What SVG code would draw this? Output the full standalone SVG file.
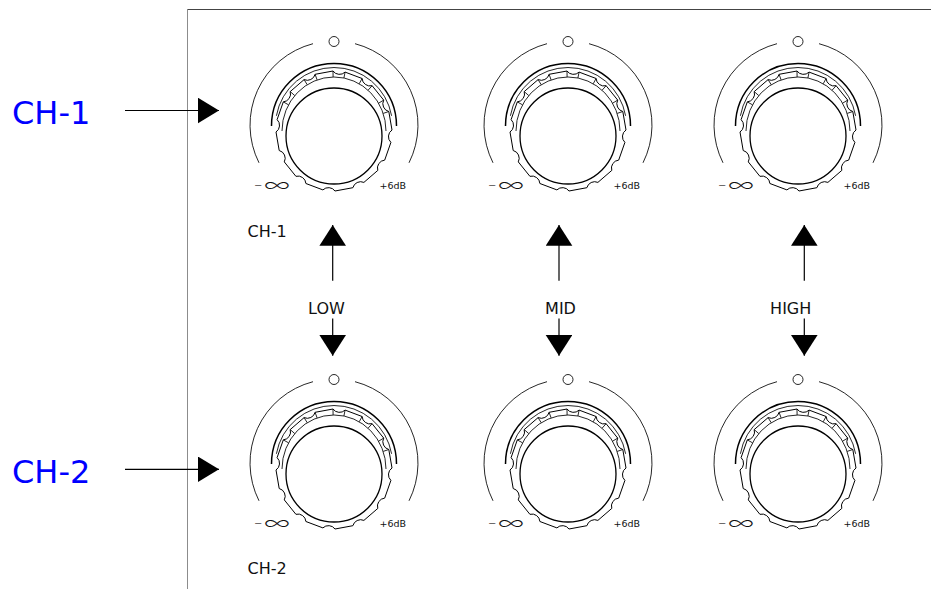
<svg xmlns="http://www.w3.org/2000/svg" width="931" height="589" viewBox="0 0 931 589">
<style>
.k{fill:none;stroke:#000}
.sk{stroke-width:1.5}
.th{stroke-width:0.85}
.gr{stroke-width:1}
.face{stroke-width:1.3}
.lbl{font-family:"DejaVu Sans",Verdana,sans-serif;fill:#111}
.inf{font-family:Inter,"Open Sans",sans-serif;font-weight:200}
.small{font-size:9.5px}
.mid{font-size:16px}
.ch{font-family:"DejaVu Sans",Verdana,sans-serif;fill:#0000ff;font-size:32px}
.conn{stroke:#000;stroke-width:1.2;fill:none}
</style>
<defs>
<marker id="ah" markerUnits="userSpaceOnUse" markerWidth="22" markerHeight="26" refX="21" refY="12.75" orient="auto">
<path d="M0,0 L21,12.75 L0,25.5 Z" fill="#000"/>
</marker>
<marker id="av" markerUnits="userSpaceOnUse" markerWidth="21" markerHeight="27" refX="20.7" refY="13.3" orient="auto">
<path d="M0,0 L20.7,13.3 L0,26.6 Z" fill="#000"/>
</marker>
<g id="knob">
<path class="k th" d="M-21,-82.3 A84,84 0 0 0 -75,36.8"/>
<path class="k th" d="M21,-82.3 A84,84 0 0 1 75,36.8"/>
<circle class="k th" cx="0" cy="-84.5" r="5"/>
<path class="k sk" d="M-62.5,0 A62.5,62.5 0 0 1 62.5,0"/>
<path class="k th" d="M-57.6,-10.2 A58.5,58.5 0 0 1 57.6,-10.2"/>
<path class="k gr" d="M-1,-55 A8,8 0 0 0 11.1,-53.9 L28.1,-47.5 A8,8 0 0 0 38.1,-40.3 L49.7,-25.9 A8,8 0 0 0 54.8,-14.5 L58,4 A8,8 0 0 0 56.9,16.4 L50.7,34.1 A8,8 0 0 0 43.8,44.4 L29.9,56.4 A8,8 0 0 0 18.9,61.7 L1,65 A8,8 0 0 0 -11.1,63.9 L-28.1,57.5 A8,8 0 0 0 -38.1,50.3 L-49.7,35.9 A8,8 0 0 0 -54.8,24.5 L-58,6 A8,8 0 0 0 -56.9,-6.4 L-50.7,-24.1 A8,8 0 0 0 -43.8,-34.4 L-29.9,-46.4 A8,8 0 0 0 -18.9,-51.7 Z"/>
<path class="k th" d="M-52,5 A52,54 0 0 1 52,5"/>
<path class="k th" d="M-1,-55 L-0.9,-49 M11.1,-53.9 L9.9,-48 M28.1,-47.5 L25.2,-42.2 M38.1,-40.3 L34.1,-35.8 M49.7,-25.9 L44.6,-22.8 M54.8,-14.5 L49.2,-12.6 M-50.7,-24.1 L-45.5,-21.2 M-43.8,-34.4 L-39.2,-30.4 M-29.9,-46.4 L-26.8,-41.3 M-18.9,-51.7 L-16.9,-46.1"/>
<circle class="k face" cx="0" cy="10" r="48"/>
<text class="lbl" transform="translate(-80,66) scale(1,0.7)"><tspan font-size="10" dy="-6">−</tspan><tspan class="inf" font-size="30" dx="1" dy="6">∞</tspan></text>
<text class="lbl small" x="45.5" y="63">+6dB</text>
</g>
</defs>
<g id="frame">
<line x1="187.5" y1="9.5" x2="187.5" y2="589" stroke="#8c8c8c" stroke-width="1"/>
<line x1="187.5" y1="9.5" x2="931" y2="9.5" stroke="#444" stroke-width="1"/>
</g>
<g id="label-ch1"><text class="ch" x="12" y="124">CH-1</text></g>
<g id="label-ch2"><text class="ch" x="12" y="482.7">CH-2</text></g>
<g id="knob-ch1-low"><use href="#knob" x="334" y="126"/></g>
<g id="knob-ch1-mid"><use href="#knob" x="568" y="126"/></g>
<g id="knob-ch1-high"><use href="#knob" x="798" y="126"/></g>
<g id="knob-ch2-low"><use href="#knob" x="334" y="464"/></g>
<g id="knob-ch2-mid"><use href="#knob" x="568" y="464"/></g>
<g id="knob-ch2-high"><use href="#knob" x="798" y="464"/></g>
<g id="row-labels">
<text class="lbl mid" x="247.5" y="236.7">CH-1</text>
<text class="lbl mid" x="247.5" y="574.3">CH-2</text>
</g>
<g id="band-labels">
<text class="lbl mid" x="326.5" y="313.8" text-anchor="middle">LOW</text>
<text class="lbl mid" x="560.5" y="313.8" text-anchor="middle">MID</text>
<text class="lbl mid" x="790.7" y="313.8" text-anchor="middle">HIGH</text>
</g>
<g id="connectors">
<line class="conn" x1="125" y1="110.5" x2="219" y2="110.5" marker-end="url(#ah)"/>
<line class="conn" x1="125" y1="469.3" x2="219" y2="469.3" marker-end="url(#ah)"/>
<line class="conn" x1="332.7" y1="280.7" x2="332.7" y2="225" marker-end="url(#av)"/>
<line class="conn" x1="332.7" y1="318.5" x2="332.7" y2="355.7" marker-end="url(#av)"/>
<line class="conn" x1="559" y1="280.7" x2="559" y2="225" marker-end="url(#av)"/>
<line class="conn" x1="559" y1="318.5" x2="559" y2="355.7" marker-end="url(#av)"/>
<line class="conn" x1="804.3" y1="280.7" x2="804.3" y2="225" marker-end="url(#av)"/>
<line class="conn" x1="804.3" y1="318.5" x2="804.3" y2="355.7" marker-end="url(#av)"/>
</g>
</svg>
